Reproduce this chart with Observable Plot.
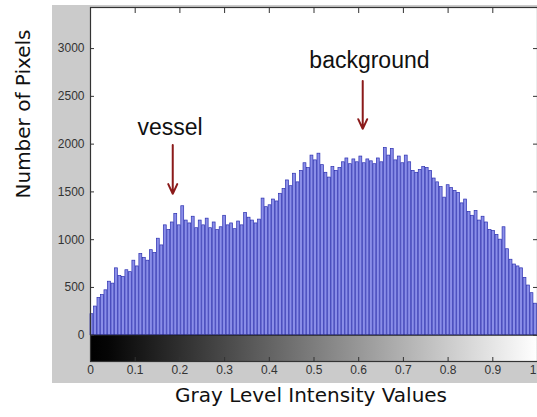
<!DOCTYPE html>
<html><head><meta charset="utf-8">
<script src="https://cdn.jsdelivr.net/npm/d3@7"></script>
<script src="https://cdn.jsdelivr.net/npm/@observablehq/plot@0.6"></script>
<style>
html,body{margin:0;padding:0;background:#fff;overflow:hidden;width:537px;height:417px}
#panel{position:absolute;left:52px;top:5px;width:500px;height:378px;background:#cbcbcb}
#chart{position:absolute;left:0;top:0}
</style></head><body>
<div id="panel"></div><div id="chart"></div>
<script>
// Histogram counts (128 bins over gray level 0..1)
const binCounts = [
  220, 300, 390, 420, 470, 560, 540, 700,
  620, 610, 680, 660, 780, 720, 850, 810,
  780, 890, 860, 1010, 940, 1150, 1100, 1180,
  1270, 1150, 1350, 1200, 1170, 1240, 1120, 1200,
  1150, 1220, 1120, 1180, 1100, 1130, 1250, 1150,
  1170, 1110, 1190, 1150, 1280, 1230, 1200, 1170,
  1210, 1430, 1340, 1360, 1420, 1400, 1480, 1530,
  1620, 1560, 1690, 1600, 1720, 1800, 1750, 1880,
  1830, 1900, 1780, 1700, 1650, 1760, 1720, 1750,
  1810, 1850, 1790, 1840, 1810, 1870, 1800, 1840,
  1820, 1790, 1850, 1810, 1960, 1880, 1950, 1830,
  1870, 1800, 1880, 1810, 1720, 1700, 1730, 1760,
  1750, 1720, 1640, 1600, 1550, 1440, 1570, 1540,
  1510, 1490, 1380, 1420, 1290, 1250, 1300, 1200,
  1240, 1180, 1100, 1090, 1050, 1000, 1130, 900,
  790, 740, 720, 700, 600, 520, 440, 330
];
const xTicks = [0, 0.1, 0.2, 0.3, 0.4, 0.5, 0.6, 0.7, 0.8, 0.9, 1];
const yTicks = [0, 500, 1000, 1500, 2000, 2500, 3000];
const xTitle = "Gray Level Intensity Values";
const yTitle = "Number of Pixels";
const annotationLabels = ["vessel", "background"];
const annotationTextX = [0.178, 0.624];
const annotationTextY = [2175, 2875];
const annotationArrowX = [0.184, 0.609];
const annotationArrowFrom = [1990, 2660];
const annotationArrowTo = [1480, 2160];

const yMin = -275, yMax = 3430; // color-bar strip below 0
const n = binCounts.length;
const bins = binCounts.map((c, i) => ({x1: i / n, x2: (i + 1) / n, count: c}));
const notes = annotationLabels.map((label, i) => ({
  label, tx: annotationTextX[i], ty: annotationTextY[i],
  ax: annotationArrowX[i], ay1: annotationArrowFrom[i], ay2: annotationArrowTo[i]
}));
const fmt = d => String(+d.toFixed(1));
const xInner = xTicks.slice(0, -1), xLast = xTicks.slice(-1);

const chart = Plot.plot({
  width: 537, height: 417,
  marginLeft: 90, marginRight: 0, marginTop: 7, marginBottom: 56,
  style: {background: "transparent", fontFamily: "'Liberation Sans', Arial, sans-serif", fontSize: "12px", color: "#2a2a2a", overflow: "visible"},
  x: {domain: [0, 1]},
  y: {domain: [yMin, yMax]},
  marks: [
    Plot.frame({fill: "white", stroke: null}),
    Plot.rect([0], {x1: 0, x2: 1, y1: yMin, y2: 0, fill: "url(#cbgrad)"}),
    Plot.rectY(bins, {x1: "x1", x2: "x2", y: "count", fill: "#8a8ee8", stroke: "#2c30b0", strokeWidth: 0.7, insetRight: 0.6}),
    Plot.ruleY([0], {stroke: "#222", strokeWidth: 1}),
    Plot.text(xInner, {x: d => d, frameAnchor: "bottom", dy: 12, text: fmt, fill: "#333", fontSize: 12}),
    Plot.text(xLast, {x: d => d, frameAnchor: "bottom", dy: 12, text: fmt, fill: "#333", fontSize: 12, textAnchor: "end", dx: -1}),
    Plot.axisX({anchor: "bottom", ticks: xTicks, tickSize: -4, tickFormat: () => "", label: null, stroke: "#333"}),
    Plot.axisX({anchor: "top", ticks: xTicks, tickSize: -5, tickFormat: () => "", label: null, stroke: "#333"}),
    Plot.axisY({anchor: "left", ticks: yTicks, tickSize: 0, tickPadding: 6, tickFormat: d => String(d), label: null, fill: "#333"}),
    Plot.axisY({anchor: "left", ticks: yTicks, tickSize: -4, tickFormat: () => "", label: null, stroke: "#333"}),
    Plot.axisY({anchor: "right", ticks: yTicks, tickSize: -5, tickFormat: () => "", label: null, stroke: "#333"}),
    Plot.frame({stroke: "#333", strokeWidth: 1.2}),
    Plot.arrow(notes, {x1: "ax", y1: "ay1", x2: "ax", y2: "ay2", stroke: "#8b1a1a", strokeWidth: 2, headLength: 8, headAngle: 50}),
    Plot.text(notes, {x: "tx", y: "ty", text: "label", fontSize: 23, fill: "#111", fontFamily: "'Liberation Sans', Arial, sans-serif"}),
    Plot.text([xTitle], {frameAnchor: "bottom", dy: 40, dx: -3, fontSize: 20, fill: "#111", fontFamily: "'DejaVu Sans', sans-serif"}),
    Plot.text([yTitle], {frameAnchor: "left", rotate: -90, dx: -67, dy: 14, fontSize: 20, fill: "#111", fontFamily: "'DejaVu Sans', sans-serif"})
  ]
});

d3.select(chart).insert("defs", ":first-child").html(
  '<linearGradient id="cbgrad" x1="0" x2="1" y1="0" y2="0">' +
  '<stop offset="0" stop-color="#000"/><stop offset="0.04" stop-color="#050505"/>' +
  '<stop offset="1" stop-color="#fff"/></linearGradient>');
document.getElementById("chart").appendChild(chart);
</script>
</body></html>
